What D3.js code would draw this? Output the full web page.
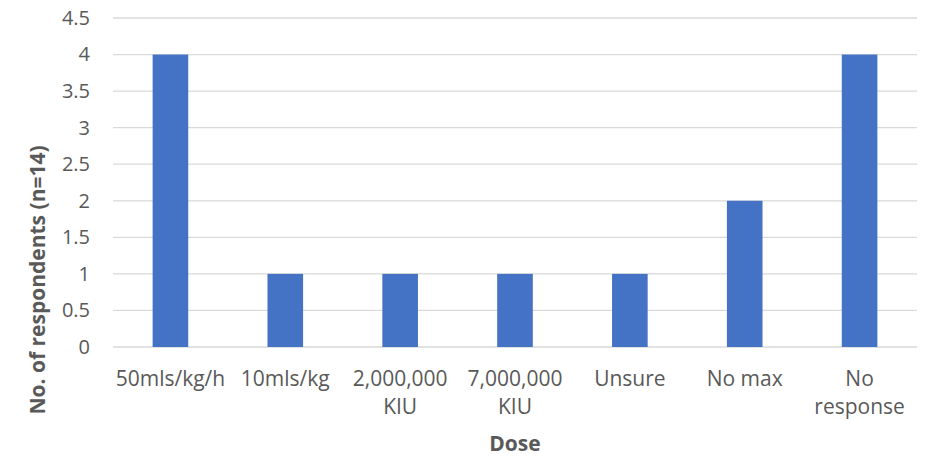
<!DOCTYPE html>
<html><head><meta charset="utf-8">
<script src="https://cdn.jsdelivr.net/npm/d3@7"></script>
<style>body{margin:0;background:#fff;} svg{display:block;}</style>
</head><body>
<svg id="c" width="930" height="457"></svg>
<script>
const categories = [["50mls/kg/h"],["10mls/kg"],["2,000,000","KIU"],["7,000,000","KIU"],["Unsure"],["No max"],["No","response"]];
const values = [4,1,1,1,1,2,4];
const yTicks = [0,0.5,1,1.5,2,2.5,3,3.5,4,4.5];
const xTitle = "Dose";
const yTitle = "No. of respondents (n=14)";

const svg = d3.select("#c");
const font = "'Open Sans', 'Liberation Sans', sans-serif";
const L = 113, R = 917, T = 18, B = 347;
const keys = categories.map((d,i)=>i);
const x = d3.scaleBand().domain(keys).range([L,R]).paddingInner(0.69).paddingOuter(0.345);
const y = d3.scaleLinear().domain([0,4.5]).range([B,T]);

svg.append("g").selectAll("line").data(yTicks).join("line")
  .attr("x1",L).attr("x2",R).attr("y1",d=>y(d)).attr("y2",d=>y(d))
  .attr("stroke","#d9d9d9").attr("stroke-width",1.3);

svg.append("g").selectAll("rect").data(values).join("rect")
  .attr("x",(d,i)=>x(i)).attr("width",x.bandwidth())
  .attr("y",d=>y(d)).attr("height",d=>B-y(d)).attr("fill","#4472c4");

const ya = d3.axisLeft(y).tickValues(yTicks).tickSize(0).tickPadding(23).tickFormat(d3.format("~g"));
svg.append("g").attr("transform",`translate(${L},0)`).call(ya)
  .call(g=>g.select(".domain").remove())
  .selectAll("text").attr("font-family",font).attr("font-size",20).attr("fill","#595959");

const xa = d3.axisBottom(x).tickSize(0).tickFormat(()=>"" );
const gx = svg.append("g").attr("transform",`translate(0,${B})`).call(xa);
gx.select(".domain").remove();
gx.selectAll(".tick text").remove();
gx.selectAll(".tick").each(function(i){
  const t = d3.select(this).append("text").attr("text-anchor","middle")
    .attr("font-family",font).attr("font-size",21).attr("fill","#595959");
  categories[i].forEach((s,j)=>t.append("tspan").attr("x",0).attr("y",39+j*28).text(s));
});

svg.append("text").attr("x",515).attr("y",451).attr("text-anchor","middle")
  .attr("font-family",font).attr("font-size",21).attr("font-weight","bold").attr("fill","#595959").text(xTitle);
svg.append("text").attr("transform",`translate(45,280) rotate(-90)`).attr("text-anchor","middle")
  .attr("font-family",font).attr("font-size",21).attr("font-weight","bold").attr("fill","#595959").text(yTitle);
</script>
</body></html>
